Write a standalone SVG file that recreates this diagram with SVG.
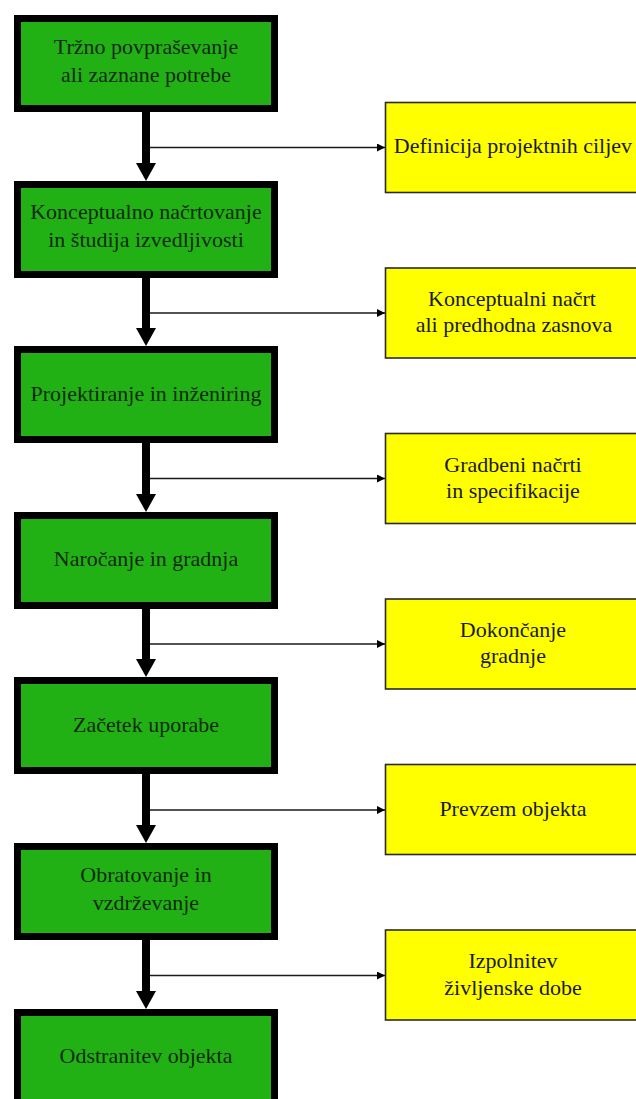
<svg xmlns="http://www.w3.org/2000/svg" width="636" height="1099" viewBox="0 0 636 1099">
  <style>
    .stage rect { fill: #22b114; stroke: #000; stroke-width: 7; }
    .result rect { fill: #ffff00; stroke: #2a2a2a; stroke-width: 1.6; }
    text { font-family: "Liberation Serif", "Times New Roman", serif; font-size: 22px; text-anchor: middle; }
    .stage text { fill: #0f2a0c; }
    .result text { fill: #1a1a1a; }
    .flow { stroke: #000; stroke-width: 8; fill: none; }
    .branch { stroke: #1a1a1a; stroke-width: 1.6; fill: none; }
  </style>
  <defs>
    <marker id="small-head" markerWidth="8" markerHeight="8" refX="8" refY="4" orient="auto" markerUnits="userSpaceOnUse">
      <path d="M0,0 L8,4 L0,8 Z" fill="#000"/>
    </marker>
    <path id="big-head" d="M-10,0 L10,0 L0,18 Z" fill="#000"/>
  </defs>

  <rect width="636" height="1099" fill="#fff"/>

  <!-- connectors -->
  <g id="connectors">
    <path class="flow" d="M146,112 V165"/>
    <use href="#big-head" x="146" y="163"/>
    <path class="branch" d="M150,147.5 H385" marker-end="url(#small-head)"/>

    <path class="flow" d="M146,277 V330"/>
    <use href="#big-head" x="146" y="328"/>
    <path class="branch" d="M150,313 H385" marker-end="url(#small-head)"/>

    <path class="flow" d="M146,443 V496"/>
    <use href="#big-head" x="146" y="494"/>
    <path class="branch" d="M150,478.5 H385" marker-end="url(#small-head)"/>

    <path class="flow" d="M146,608 V661"/>
    <use href="#big-head" x="146" y="659"/>
    <path class="branch" d="M150,644 H385" marker-end="url(#small-head)"/>

    <path class="flow" d="M146,774 V827"/>
    <use href="#big-head" x="146" y="825"/>
    <path class="branch" d="M150,810 H385" marker-end="url(#small-head)"/>

    <path class="flow" d="M146,939 V993"/>
    <use href="#big-head" x="146" y="991"/>
    <path class="branch" d="M150,975.5 H385" marker-end="url(#small-head)"/>
  </g>

  <!-- stages (green) -->
  <g id="stage-1" class="stage">
    <rect x="17.5" y="18.5" width="257" height="90"/>
    <text x="146" y="54">Tržno povpraševanje</text>
    <text x="146" y="82">ali zaznane potrebe</text>
  </g>
  <g id="stage-2" class="stage">
    <rect x="17.5" y="184.5" width="257" height="90"/>
    <text x="146" y="219">Konceptualno načrtovanje</text>
    <text x="146" y="247">in študija izvedljivosti</text>
  </g>
  <g id="stage-3" class="stage">
    <rect x="17.5" y="349.5" width="257" height="90"/>
    <text x="146" y="401">Projektiranje in inženiring</text>
  </g>
  <g id="stage-4" class="stage">
    <rect x="17.5" y="515.5" width="257" height="90"/>
    <text x="146" y="566">Naročanje in gradnja</text>
  </g>
  <g id="stage-5" class="stage">
    <rect x="17.5" y="680.5" width="257" height="90"/>
    <text x="146" y="732">Začetek uporabe</text>
  </g>
  <g id="stage-6" class="stage">
    <rect x="17.5" y="846.5" width="257" height="90"/>
    <text x="146" y="882">Obratovanje in</text>
    <text x="146" y="910">vzdrževanje</text>
  </g>
  <g id="stage-7" class="stage">
    <rect x="17.5" y="1012.5" width="257" height="100"/>
    <text x="146" y="1063">Odstranitev objekta</text>
  </g>

  <!-- results (yellow) -->
  <g id="result-1" class="result">
    <rect x="385.5" y="102.5" width="260" height="90"/>
    <text x="513" y="153">Definicija projektnih ciljev</text>
  </g>
  <g id="result-2" class="result">
    <rect x="385.5" y="268" width="260" height="90"/>
    <text x="512" y="306">Konceptualni načrt</text>
    <text x="514" y="332">ali predhodna zasnova</text>
  </g>
  <g id="result-3" class="result">
    <rect x="385.5" y="433.5" width="260" height="90"/>
    <text x="513" y="472">Gradbeni načrti</text>
    <text x="513" y="498">in specifikacije</text>
  </g>
  <g id="result-4" class="result">
    <rect x="385.5" y="599" width="260" height="90"/>
    <text x="513" y="637">Dokončanje</text>
    <text x="513" y="663">gradnje</text>
  </g>
  <g id="result-5" class="result">
    <rect x="385.5" y="764.5" width="260" height="90"/>
    <text x="513" y="816">Prevzem objekta</text>
  </g>
  <g id="result-6" class="result">
    <rect x="385.5" y="930" width="260" height="90"/>
    <text x="513" y="968">Izpolnitev</text>
    <text x="513" y="995">življenske dobe</text>
  </g>
</svg>
